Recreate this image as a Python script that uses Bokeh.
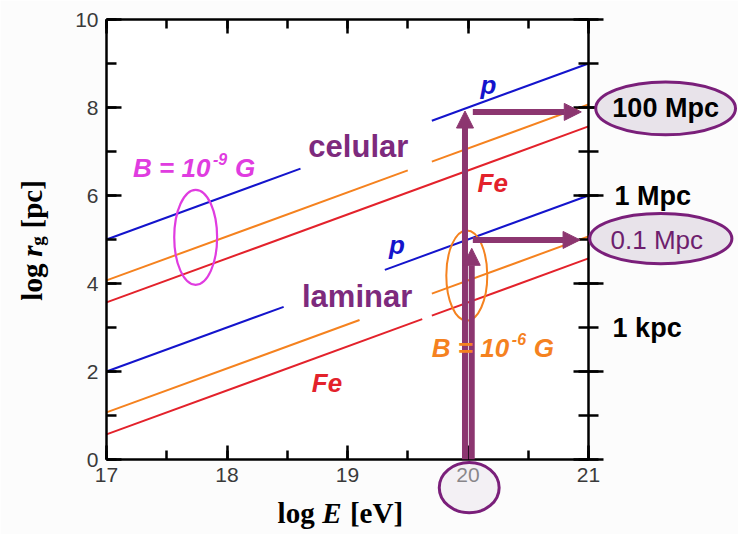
import math
from bokeh.plotting import figure
from bokeh.models import (Range1d, LinearAxis, SingleIntervalTicker, Arrow,
                          NormalHead, CustomJSTickFormatter)
from bokeh.core.properties import value
from bokeh.embed import file_html
from bokeh.resources import INLINE

# ---------------- data ----------------
x_ticks = [17, 18, 19, 20, 21]          # log E [eV]
y_ticks = [0, 2, 4, 6, 8, 10]           # log r_g [pc]

# B = 1e-9 G ("celular"): segments of each line (log E, log r_g)
cel_p_x = [[17.00, 18.61], [19.70, 21.00]]
cel_p_y = [[5.00, 6.61], [7.70, 9.00]]
cel_o_x = [[17.00, 19.50], [19.70, 21.00]]
cel_o_y = [[4.07, 6.57], [6.77, 8.07]]
cel_fe_x = [[17.00, 21.00]]
cel_fe_y = [[3.57, 7.57]]
# B = 1e-6 G ("laminar")
lam_p_x = [[17.00, 18.47], [19.31, 21.00]]
lam_p_y = [[2.00, 3.47], [4.31, 6.00]]
lam_o_x = [[17.00, 19.10], [19.70, 21.00]]
lam_o_y = [[1.07, 3.17], [3.77, 5.07]]
lam_fe_x = [[17.00, 19.62], [19.70, 21.00]]
lam_fe_y = [[0.57, 3.19], [3.27, 4.57]]

# right-hand distance scale
dist_vals = [8, 6, 5, 3]
dist_labels = ["100 Mpc", "1 Mpc", "0.1 Mpc", "1 kpc"]

energy_mark = 20      # highlighted energy
rg_high = 8           # reached r_g for B = 1e-9 G
rg_low = 5            # reached r_g for B = 1e-6 G

# ---------------- styles ----------------
BLUE = "#1414CC"
ORANGE = "#F5821F"
RED = "#E3222B"
MAGENTA = "#E03CE0"
PURPLE = "#8C3670"
PURPLE_TXT = "#7D2A7D"
RING = "#7A1F7A"
RING_FILL = "#E8E3EA"
SANS = "Liberation Sans"
SERIF = "Liberation Serif"
TICK_COL = "#3a3a3a"
PX_X = 120.5   # pixels per x unit
PX_Y = 44.0    # pixels per y unit
BASE_SHIFT = 9  # px correction for alphabetic baseline

p = figure(frame_width=482, frame_height=440,
           min_border_left=106, min_border_right=150,
           min_border_top=19, min_border_bottom=75,
           x_range=Range1d(17, 21), y_range=Range1d(0, 10),
           output_backend="svg", toolbar_location=None,
           x_axis_location=None, y_axis_location=None,
           background_fill_color="white", border_fill_color="#fcfcfc")
p.outline_line_color = None
p.xgrid.visible = False
p.ygrid.visible = False


def style_axis(ax, label=True):
    ax.axis_line_width = 2.5
    ax.axis_line_color = "black"
    ax.major_tick_line_width = 2.5
    ax.minor_tick_line_width = 2.5
    ax.major_tick_line_color = "black"
    ax.minor_tick_line_color = "black"
    ax.major_label_text_font = SANS
    ax.major_label_text_font_size = "21px"
    ax.major_label_text_color = TICK_COL
    if not label:
        ax.formatter = CustomJSTickFormatter(code="return ''")
        ax.major_label_standoff = 0


xb = LinearAxis(ticker=SingleIntervalTicker(interval=1, num_minor_ticks=2))
style_axis(xb)
xb.major_tick_in, xb.major_tick_out = 14, 0
xb.minor_tick_in, xb.minor_tick_out = 9, 0
xb.major_label_standoff = 8
p.add_layout(xb, "below")

xt = LinearAxis(ticker=SingleIntervalTicker(interval=1, num_minor_ticks=2))
style_axis(xt, label=False)
xt.major_tick_in, xt.major_tick_out = 14, 0
xt.minor_tick_in, xt.minor_tick_out = 9, 0
p.add_layout(xt, "above")

yl = LinearAxis(ticker=SingleIntervalTicker(interval=2, num_minor_ticks=2))
style_axis(yl)
yl.major_tick_in, yl.major_tick_out = 15, 0
yl.minor_tick_in, yl.minor_tick_out = 10, 0
yl.major_label_standoff = 8
p.add_layout(yl, "left")

yr = LinearAxis(ticker=SingleIntervalTicker(interval=2, num_minor_ticks=2))
style_axis(yr, label=False)
yr.major_tick_in, yr.major_tick_out = 15, 15
yr.minor_tick_in, yr.minor_tick_out = 10, 10
p.add_layout(yr, "right")

# ---------------- lines ----------------
for xs, ys, col in [(cel_p_x, cel_p_y, BLUE), (cel_o_x, cel_o_y, ORANGE),
                    (cel_fe_x, cel_fe_y, RED), (lam_p_x, lam_p_y, BLUE),
                    (lam_o_x, lam_o_y, ORANGE), (lam_fe_x, lam_fe_y, RED)]:
    p.multi_line(xs=xs, ys=ys, line_color=col, line_width=2)

# ---------------- ellipses inside ----------------
p.ellipse(x=[17.74], y=[5.05], width=[0.356], height=[2.16],
          fill_color=None, line_color=MAGENTA, line_width=2.2)
p.ellipse(x=[19.99], y=[4.18], width=[0.34], height=[2.05],
          fill_color=None, line_color=ORANGE, line_width=2)

# ---------------- arrows ----------------
def arrow(x0, y0, x1, y1):
    p.add_layout(Arrow(end=NormalHead(size=17, fill_color=PURPLE, line_color=PURPLE,
                                      line_width=1),
                       x_start=x0, y_start=y0, x_end=x1, y_end=y1,
                       line_color=PURPLE, line_width=6))

arrow(energy_mark - 0.025, 0, energy_mark - 0.025, rg_high - 0.08)
arrow(energy_mark + 0.04, rg_high - 0.1, 20.94, rg_high - 0.1)
arrow(energy_mark + 0.031, 0, energy_mark + 0.031, rg_low - 0.2)
arrow(energy_mark + 0.04, rg_low - 0.01, 20.93, rg_low - 0.01)

# ---------------- ellipses outside the frame ----------------
p.ellipse(x=[21.64, 21.60], y=[7.98, 5.02], width=[1.16, 1.18], height=[1.2, 1.14],
          fill_color=RING_FILL, line_color=RING, line_width=3, level="overlay")
p.ellipse(x=[energy_mark + 0.01], y=[-0.64], width=[0.497], height=[1.14],
          fill_color=RING_FILL, fill_alpha=0.45, line_color=RING, line_width=3,
          level="overlay")


def lab(x, y, text, size, color="black", style="bold", font=SANS, align="center",
        baseline="alphabetic", angle=0.0):
    if baseline == "alphabetic":
        if angle:
            x -= BASE_SHIFT / PX_X
        else:
            y += BASE_SHIFT / PX_Y
    p.text(x=[x], y=[y], text=[text], text_font=value(font),
           text_font_size=value(f"{size}px"), text_font_style=value(style),
           text_color=color, text_align=value(align),
           text_baseline=value(baseline), angle=angle, level="overlay")


# right-hand distance labels
lab(21.64, dist_vals[0], dist_labels[0], 27, baseline="middle")
lab(21.215, dist_vals[1], dist_labels[1], 27, align="left", baseline="middle")
lab(21.567, dist_vals[2], dist_labels[2], 26, color="#6E1F6E", style="normal",
    baseline="middle")
lab(21.2, dist_vals[3], dist_labels[3], 27, align="left", baseline="middle")

# regime labels
lab(19.09, 6.91, "celular", 31, color=PURPLE_TXT)
lab(19.08, 3.50, "laminar", 31, color=PURPLE_TXT)

# particle labels
lab(20.17, 8.30, "p", 26, color=BLUE, style="bold italic")
lab(19.41, 4.68, "p", 26, color=BLUE, style="bold italic")
lab(20.205, 6.07, "Fe", 26, color=RED, style="bold italic")
lab(18.83, 1.545, "Fe", 26, color=RED, style="bold italic")


# field-strength labels (with superscripts)
def field_label(x_left, y_base, exp, color):
    lab(x_left, y_base, "B = 10", 26, color=color, style="bold italic", align="left")
    x_sup = x_left + 80 / PX_X
    lab(x_sup, y_base + 9 / PX_Y, exp, 16, color=color, style="bold italic", align="left")
    lab(x_sup + 22 / PX_X, y_base, "G", 26, color=color, style="bold italic",
        align="left")

field_label(17.22, 6.41, "-9", MAGENTA)
field_label(19.70, 2.32, "-6", ORANGE)

# axis titles built from pieces (upright / italic / subscript)
xl_y = -1.43
lab(18.42, xl_y, "log", 29, font=SERIF, align="left")
lab(18.79, xl_y, "E", 29, font=SERIF, style="bold italic", align="left")
lab(19.02, xl_y, "[eV]", 29, font=SERIF, align="left")

yl_x = 16.453
rot = math.pi / 2
lab(yl_x, 3.61, "log", 29, font=SERIF, align="left", angle=rot)
lab(yl_x, 4.61, "r", 29, font=SERIF, style="bold italic", align="left", angle=rot)
lab(yl_x + 6 / PX_X, 4.86, "g", 19, font=SERIF, align="left", angle=rot)
lab(yl_x, 5.25, "[pc]", 29, font=SERIF, align="left", angle=rot)

open("out.html", "w").write(file_html(p, INLINE))
